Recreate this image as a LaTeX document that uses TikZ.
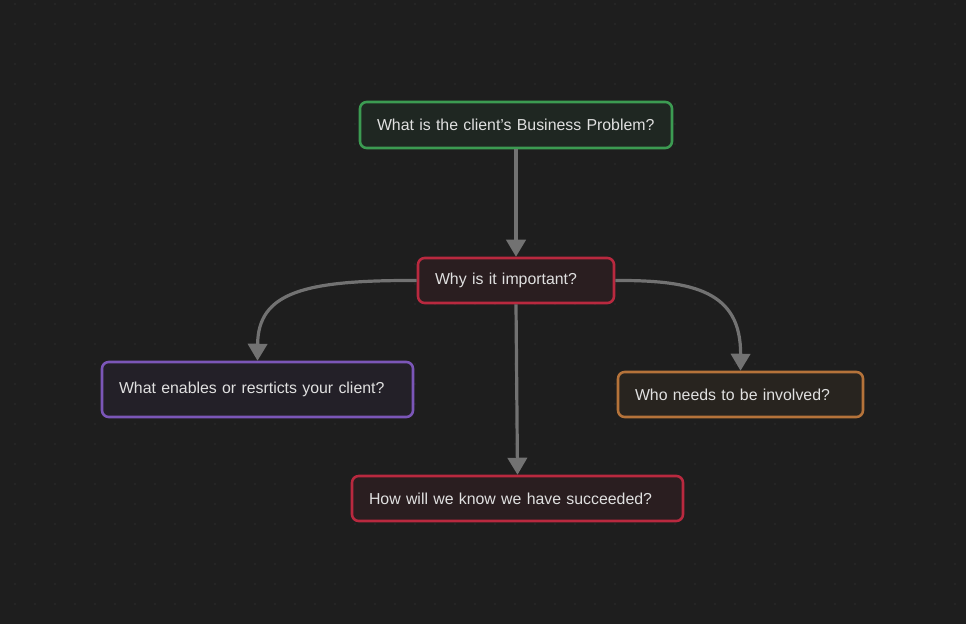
\documentclass[tikz,border=0pt]{standalone}
\usepackage{fontspec}
\setmainfont{Liberation Sans}
\usetikzlibrary{arrows.meta}
\definecolor{bg}{HTML}{1E1E1E}
\definecolor{dotc}{HTML}{2E2E2E}
\definecolor{edgec}{HTML}{727272}
\definecolor{txt}{HTML}{E0E0E0}
\definecolor{cgreen}{HTML}{3C9B52}
\definecolor{fgreen}{HTML}{1F2722}
\definecolor{cred}{HTML}{B9293F}
\definecolor{fred}{HTML}{2A1E20}
\definecolor{cpurple}{HTML}{7B56B8}
\definecolor{fpurple}{HTML}{232028}
\definecolor{corange}{HTML}{B5733A}
\definecolor{forange}{HTML}{28241F}
\tikzset{
  card/.style={draw=#1, line width=1.9pt, rounded corners=5pt, align=left,
    inner xsep=12.75pt, inner ysep=0pt, text=txt,
    font=\fontsize{11.9}{14}\selectfont},
  conn/.style={draw=edgec, line width=2.4pt,
    -{Triangle[length=12.75pt,width=14.5pt]}},
}
\begin{document}
\begin{tikzpicture}[x=0.75pt,y=-0.75pt]
\fill[bg] (0,0) rectangle (966,624);
\useasboundingbox (0,0) rectangle (966,624);
\foreach \i in {15,35,...,955}{
  \foreach \j in {4,24,...,620}{
    \fill[dotc] (\i,\j) circle (0.9);
  }
}
\node[card=cgreen, fill=fgreen, minimum width=234pt, minimum height=34.5pt, text width=208.5pt] (prob) at (516,125) {What is the client's Business Problem?};
\node[card=cred, fill=fred, minimum width=147pt, minimum height=33.75pt, text width=121.5pt] (why) at (516,280.5) {Why is it important?};
\node[card=cpurple, fill=fpurple, minimum width=233.25pt, minimum height=41.25pt, text width=207.75pt] (enab) at (257.5,389.5) {What enables or resrticts your client?};
\node[card=corange, fill=forange, minimum width=183.75pt, minimum height=33.75pt, text width=158.25pt] (who) at (740.5,394.5) {Who needs to be involved?};
\node[card=cred, fill=fred, minimum width=248.25pt, minimum height=33.75pt, text width=222.75pt] (how) at (517.5,498.5) {How will we know we have succeeded?};
\draw[conn] (prob.south) -- (why.north);
\draw[conn] (why.south) -- (how.north);
\draw[conn] (why.west) .. controls (305,280) and (258,292) .. (enab.north);
\draw[conn] (why.east) .. controls (695,280) and (741,292) .. (who.north);
\end{tikzpicture}
\end{document}
